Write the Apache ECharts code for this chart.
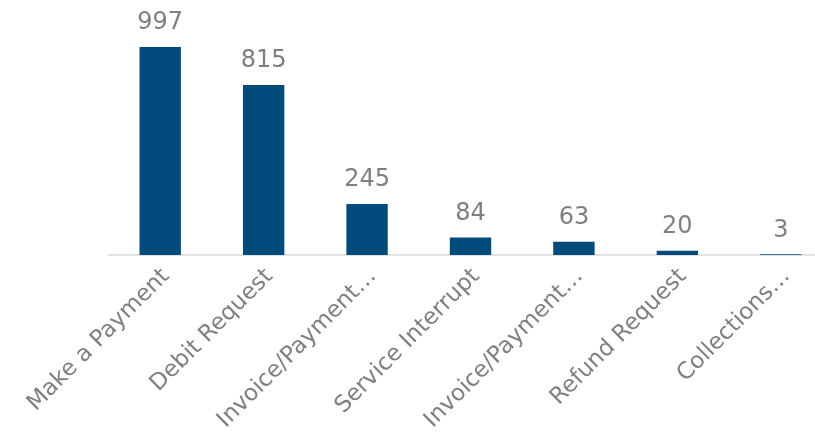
<!DOCTYPE html>
<html>
<head>
<meta charset="utf-8">
<script src="https://cdn.jsdelivr.net/npm/echarts@6/dist/echarts.min.js"></script>
<style>
  html, body { margin: 0; padding: 0; background: #ffffff; }
  #chart { width: 815px; height: 432px; }
</style>
</head>
<body>
<div id="chart"></div>
<script>
// Request categories and their counts
const categories = [
  'Make a Payment',
  'Debit Request',
  'Invoice/Payment…',
  'Service Interrupt',
  'Invoice/Payment…',
  'Refund Request',
  'Collections…'
];
const counts = [997, 815, 245, 84, 63, 20, 3];

const FONT = "'DejaVu Sans', Verdana, sans-serif";

const chart = echarts.init(document.getElementById('chart'), null, { renderer: 'canvas' });

chart.setOption({
  animation: false,
  backgroundColor: '#ffffff',
  grid: {
    left: 108.5, top: 46.4, width: 724, height: 208.6,
    containLabel: false, outerBoundsMode: 'none'
  },
  xAxis: {
    type: 'category',
    data: categories,
    axisLine: { show: true, lineStyle: { color: '#d9d9d9', width: 1.5 } },
    axisTick: { show: false },
    axisLabel: {
      interval: 0,
      rotate: 45,
      margin: 23.5,
      // nudge the slanted labels along their baseline and slightly below it
      padding: [9, -8, 0, 0],
      color: '#7f7f7f',
      fontFamily: FONT,
      fontSize: 23
    }
  },
  yAxis: {
    type: 'value',
    min: 0,
    max: 1000,
    show: false,
    splitLine: { show: false }
  },
  series: [{
    type: 'bar',
    data: counts,
    barWidth: '40%',
    itemStyle: { color: '#004a7c' },
    label: {
      show: true,
      position: 'top',
      distance: 12,
      color: '#7f7f7f',
      fontFamily: FONT,
      fontSize: 24
    }
  }]
});
</script>
</body>
</html>
